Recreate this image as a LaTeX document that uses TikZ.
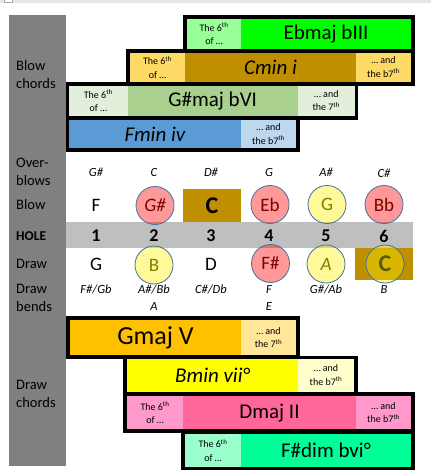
\documentclass[tikz,border=0pt]{standalone}
\usepackage{fontspec}
\setmainfont{Carlito}
\definecolor{topgray}{HTML}{E6E6E6}
\definecolor{colgray}{HTML}{808080}
\definecolor{holegray}{HTML}{BFBFBF}
\definecolor{cgold}{HTML}{BF8F00}
\definecolor{ebM}{HTML}{00FF00}
\definecolor{ebL}{HTML}{99FF99}
\definecolor{cmL}{HTML}{FFD966}
\definecolor{gsM}{HTML}{A9D08E}
\definecolor{gsL}{HTML}{E2EFDA}
\definecolor{fmM}{HTML}{5B9BD5}
\definecolor{fmL}{HTML}{BDD7EE}
\definecolor{gmM}{HTML}{FFC000}
\definecolor{gmL}{HTML}{FFE699}
\definecolor{bmM}{HTML}{FFFF00}
\definecolor{bmL}{HTML}{FFFFCC}
\definecolor{dmM}{HTML}{FF6699}
\definecolor{dmL}{HTML}{FF99CC}
\definecolor{fdM}{HTML}{00FF99}
\definecolor{fdL}{HTML}{99FFCC}
\definecolor{circedge}{HTML}{41719C}
\definecolor{redtext}{HTML}{7F0000}
\definecolor{olivetext}{HTML}{7F7F00}
\definecolor{darkolive}{HTML}{5A5A00}
\begin{document}
\begin{tikzpicture}[x=1pt,y=-1pt,
  every node/.style={inner sep=0pt},
  small/.style={align=center,font=\fontsize{10}{13.5}\selectfont},
  big/.style={font=\fontsize{21}{24}\selectfont},
  bigit/.style={font=\fontsize{21}{24}\selectfont\itshape},
  side/.style={anchor=west,align=left,font=\fontsize{14.5}{18}\selectfont},
  note/.style={font=\fontsize{19}{22}\selectfont},
  num/.style={font=\fontsize{18}{20}\selectfont\bfseries},
  ital/.style={font=\fontsize{12.5}{14}\selectfont\itshape},
  redc/.style={circle,minimum size=38pt,draw=circedge,line width=0.8pt,fill=red,fill opacity=0.4,text opacity=1,text=redtext,font=\fontsize{19}{22}\selectfont},
  yelc/.style={circle,minimum size=38pt,draw=circedge,line width=0.8pt,fill=yellow,fill opacity=0.4,text opacity=1,text=olivetext,font=\fontsize{19}{22}\selectfont}
]
\useasboundingbox (0,0) rectangle (431,473);
\fill[white] (0,0) rectangle (431,473);
\fill[topgray] (0,0) rectangle (431,3);
\draw[gray!70,fill=white,line width=0.6pt] (4,-1) rectangle (12,2.3);
% left column
\fill[colgray] (9,15) rectangle (66,466);
\node[side] (lblBlowCh) at (16,75) {Blow\\chords};
\node[side] (lblOver) at (16,172) {Over-\\blows};
\node[side] (lblBlow) at (16,205) {Blow};
\node[side,font=\fontsize{13.5}{16}\selectfont\bfseries] (lblHole) at (16,236) {HOLE};
\node[side] (lblDraw) at (16,264) {Draw};
\node[side] (lblBends) at (16,298) {Draw\\bends};
\node[side] (lblDrawCh) at (16,394) {Draw\\chords};
% ---- blow chords
% Ebmaj bIII
\fill (183,15) rectangle (415,52.7);
\fill[ebL] (187,19) rectangle (241,48.7);
\fill[ebM] (241,19) rectangle (411,48.7);
\node[small] (eb6) at (214,34) {The 6\textsuperscript{th}\\of …};
\node[big] (ebmaj) at (326,34) {Ebmaj bIII};
% Cmin i
\fill (126,48.7) rectangle (415,86);
\fill[cmL] (130,52.7) rectangle (185,81.7);
\fill[cgold] (185,52.7) rectangle (356,81.7);
\fill[cmL] (356,52.7) rectangle (411,81.7);
\node[small] (cm6) at (157.5,67.2) {The 6\textsuperscript{th}\\of …};
\node[bigit] (cmin) at (270.5,67.2) {Cmin i};
\node[small] (cm7) at (383.5,67.2) {… and\\the b7\textsuperscript{th}};
% G#maj bVI
\fill (66,81.7) rectangle (358,120);
\fill[gsL] (69,86) rectangle (127.7,115.7);
\fill[gsM] (127.7,86) rectangle (297.7,115.7);
\fill[gsL] (297.7,86) rectangle (355,115.7);
\node[small] (gs6) at (98.3,100.8) {The 6\textsuperscript{th}\\of …};
\node[big] (gsmaj) at (212.7,100.8) {G\#maj bVI};
\node[small] (gs7) at (326.3,100.8) {… and\\the 7\textsuperscript{th}};
% Fmin iv
\fill (66,115.7) rectangle (300,152.3);
\fill[fmM] (69,120) rectangle (241,148.3);
\fill[fmL] (241,120) rectangle (296,148.3);
\node[bigit] (fmin) at (155,134.2) {Fmin iv};
\node[small] (fm7) at (268.5,134.2) {… and\\the b7\textsuperscript{th}};
% ---- grid
\fill[holegray] (66,221.5) rectangle (413,248);
\fill[cgold] (183,189) rectangle (241,222);
\fill[cgold] (355,248) rectangle (413,280);
% overblows
\node[ital] (ob1) at (96,172) {G\#};
\node[ital] (ob2) at (154,172) {C};
\node[ital] (ob3) at (211,172) {D\#};
\node[ital] (ob4) at (269,172) {G};
\node[ital] (ob5) at (326,172) {A\#};
\node[ital] (ob6) at (384,173) {C\#};
% blow
\node[note] (b1) at (96,205) {F};
\node[redc,font=\fontsize{19}{22}\selectfont\itshape] (b2) at (155,205.5) {G\#};
\node[font=\fontsize{24}{26}\selectfont\bfseries] (b3) at (212,206) {C};
\node[redc] (b4) at (270,204.5) {Eb};
\node[yelc] (b5) at (327,204.5) {G};
\node[redc] (b6) at (384,204.5) {Bb};
% hole numbers
\node[num] (h1) at (96,236) {1};
\node[num] (h2) at (154,236) {2};
\node[num] (h3) at (211,236) {3};
\node[num] (h4) at (269,236) {4};
\node[num] (h5) at (326,236) {5};
\node[num] (h6) at (384,236) {6};
% draw
\node[note] (d1) at (96,264) {G};
\node[yelc] (d2) at (154,265) {B};
\node[note] (d3) at (211,264) {D};
\node[redc] (d4) at (270.5,263.5) {F\#};
\node[yelc,font=\fontsize{19}{22}\selectfont\itshape] (d5) at (326,264) {A};
\node[yelc,text=darkolive,font=\fontsize{24}{26}\selectfont\bfseries] (d6) at (385,264) {C};
% draw bends
\node[ital] (db1) at (96,289) {F\#/Gb};
\node[ital] (db2) at (154,289) {A\#/Bb};
\node[ital] (db3) at (211,289) {C\#/Db};
\node[ital] (db4) at (269,289) {F};
\node[ital] (db5) at (326,289) {G\#/Ab};
\node[ital] (db6) at (384,289) {B};
\node[ital] (db2b) at (154,306) {A};
\node[ital] (db4b) at (269,306) {E};
% ---- draw chords
% Gmaj V
\fill (66,316) rectangle (300,359);
\fill[gmM] (70,320) rectangle (241,355);
\fill[gmL] (241,320) rectangle (296,355);
\node[font=\fontsize{26}{28}\selectfont] (gmaj) at (155.5,337.5) {Gmaj V};
\node[small] (gm7) at (268.5,337.5) {… and\\the 7\textsuperscript{th}};
% Bmin vii
\fill (123.3,355.7) rectangle (357.7,395.5);
\fill[bmM] (127.3,359) rectangle (297.7,391.7);
\fill[bmL] (297.7,359) rectangle (354.3,391.7);
\node[bigit] (bmin) at (212.5,375.3) {Bmin vii°};
\node[small] (bm7) at (326,375.3) {… and\\the b7\textsuperscript{th}};
% Dmaj II
\fill (123.3,392) rectangle (415,433);
\fill[dmL] (127.3,396) rectangle (183,429.3);
\fill[dmM] (183,396) rectangle (356,429.3);
\fill[dmL] (356,396) rectangle (411,429.3);
\node[small] (dm6) at (155,412.7) {The 6\textsuperscript{th}\\of …};
\node[big] (dmaj) at (269.5,412.7) {Dmaj II};
\node[small] (dm7) at (383.5,412.7) {… and\\the b7\textsuperscript{th}};
% F#dim bvi
\fill (181,430) rectangle (415,470);
\fill[fdL] (185,434) rectangle (241,466.5);
\fill[fdM] (241,434) rectangle (411,466.5);
\node[small] (fd6) at (213,450.2) {The 6\textsuperscript{th}\\of …};
\node[big] (fdim) at (326,450.2) {F\#dim bvi°};
\end{tikzpicture}
\end{document}
